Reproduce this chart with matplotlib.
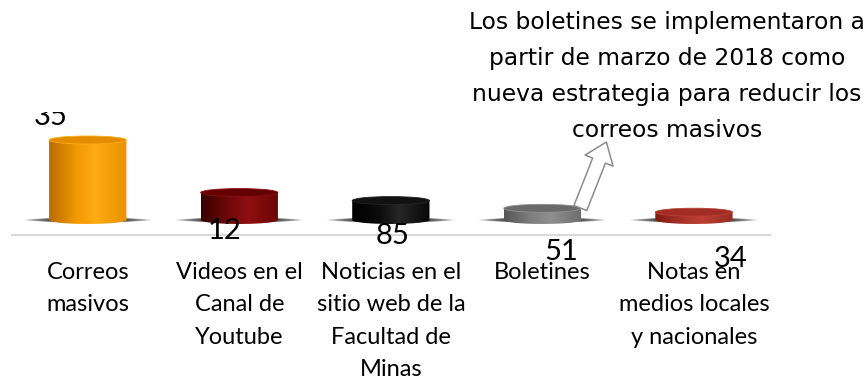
import matplotlib.pyplot as plt
import numpy as np
from matplotlib.colors import LinearSegmentedColormap
from matplotlib.patches import Ellipse, PathPatch
from matplotlib.path import Path
from matplotlib import transforms

# datos
categories = ['Correos\nmasivos', 'Videos en el\nCanal de\nYoutube',
              'Noticias en el\nsitio web de la\nFacultad de\nMinas',
              'Boletines', 'Notas en\nmedios locales\ny nacionales']
values = [3500, 1200, 850, 510, 340]
value_labels = ['35', '12', '85', '51', '34']
note = ('Los boletines se implementaron a\npartir de marzo de 2018 como\n'
        'nueva estrategia para reducir los\ncorreos masivos')

# estilo de cada cilindro
body_colors = [['#b86c00', '#f29a00', '#ffab14', '#e89100'],
               ['#360000', '#700808', '#8e1010', '#6a0505'],
               ['#000000', '#0c0c0c', '#262626', '#080808'],
               ['#555555', '#7e7e7e', '#909090', '#6c6c6c'],
               ['#7e1c14', '#a83328', '#bd4034', '#982a20']]
top_colors = ['#e48c00', '#640000', '#111111', '#6a6a6a', '#a02e24']
label_offsets = [(-37, 103), (-15, -11), (2, -16), (19, -32), (37, -39)]

fig = plt.figure(figsize=(8.67, 3.79), dpi=100)
ax = fig.add_axes([0.0138, 0.38, 0.874, 0.3245])

width = 0.51
cap = 350
grad = np.linspace(0, 1, 256).reshape(1, -1)

for i, h in enumerate(values):
    x0, x1 = i - width / 2, i + width / 2
    # sombra difusa
    for k in range(9):
        ax.add_patch(Ellipse((i, 0), width * (1.65 - k * 0.07), 170 + k * 12,
                             facecolor='#1a1a1a', edgecolor='none', alpha=0.13, zorder=1))
    # cuerpo del cilindro
    t = np.linspace(np.pi, 2 * np.pi, 60)
    verts = [(x0, h), (x0, 0)] + list(zip(i + width / 2 * np.cos(t), cap / 2 * np.sin(t))) + [(x1, h), (x0, h)]
    codes = [Path.MOVETO] + [Path.LINETO] * (len(verts) - 2) + [Path.CLOSEPOLY]
    body = PathPatch(Path(verts, codes), facecolor='none', edgecolor='none', zorder=2)
    ax.add_patch(body)
    cmap = LinearSegmentedColormap.from_list('c%d' % i, list(zip([0, 0.35, 0.6, 1], body_colors[i])))
    im = ax.imshow(grad, cmap=cmap, extent=(x0, x1, -cap / 2, h), aspect='auto', zorder=2)
    im.set_clip_path(body)
    # tapa
    ax.add_patch(Ellipse((i, h), width, cap, facecolor=top_colors[i],
                         edgecolor=body_colors[i][2], linewidth=0.6, zorder=3))

# etiquetas de valores (solo se recortan por arriba del area del grafico)
clip = transforms.TransformedBbox(transforms.Bbox([[-0.1, -3], [1.1, 1]]), ax.transAxes)
for i, lbl in enumerate(value_labels):
    t = ax.annotate(lbl, xy=(i, 0), xytext=label_offsets[i], textcoords='offset pixels',
                    ha='center', va='center', fontsize=21, family='Lato', color='black',
                    zorder=5, annotation_clip=False)
    t.set_clip_on(True)
    t.set_clip_box(clip)

# flecha hacia la nota
tip = transforms.offset_copy(ax.transData, fig=fig, x=64, y=78, units='dots')
tail = transforms.offset_copy(ax.transData, fig=fig, x=38, y=12, units='dots')
ax.annotate('', xy=(3, 0), xycoords=tip, xytext=(3, 0), textcoords=tail,
            arrowprops=dict(arrowstyle='simple,head_length=0.8,head_width=1.2,tail_width=0.55',
                            fc='white', ec='#8c8c8c', lw=1.1, mutation_scale=18,
                            shrinkA=0, shrinkB=0),
            annotation_clip=False, zorder=4)

fig.text(0.769, 0.972, note, ha='center', va='top', fontsize=16.8,
         family='DejaVu Sans', linespacing=1.73)

ax.set_xlim(-0.5, 4.5)
ax.set_ylim(-656, 4725)
ax.set_xticks(range(len(categories)))
ax.set_xticklabels(categories, fontsize=17, family='Lato')
for tl in ax.get_xticklabels():
    tl.set_linespacing(1.67)
ax.tick_params(axis='x', length=0, pad=19.5)
ax.set_yticks([])
for s in ['top', 'left', 'right']:
    ax.spines[s].set_visible(False)
ax.spines['bottom'].set_color('#d9d9d9')
ax.spines['bottom'].set_linewidth(1.5)
ax.patch.set_alpha(0)

fig.savefig('out.png', dpi=100)
